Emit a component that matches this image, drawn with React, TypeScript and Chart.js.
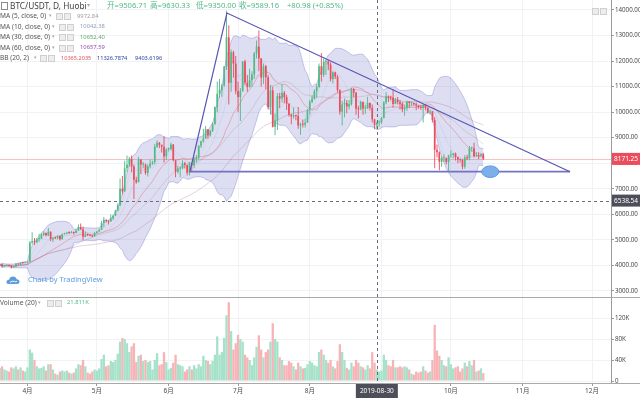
import React, { useEffect, useRef } from 'react';
import { Chart, registerables } from 'chart.js';
Chart.register(...registerables);

const FONT = '"Noto Sans", "Noto Sans CJK SC", sans-serif';

// Daily candles, 2019-03-20 (index 0) .. 2019-10-15 (index 209)
const opens = [
  3980,4045,3960,3995,4000,3990,3930,3950,4070,4040,4110,4100,
  4110,4150,4900,4960,4900,5040,5050,5200,5270,5180,5320,5030,5080,5070,5160,5030,5230,5240,5280,5270,5310,5270,5370,5500,5420,5120,5190,5180,5160,5140,
  5270,5330,5400,5660,5790,5740,5720,5850,5950,6150,6350,7000,6900,7800,7950,8180,7870,7350,7260,8150,7950,7950,7620,7880,7990,8050,8650,8800,8720,8650,8270,
  8550,8550,8730,8120,7670,7790,7800,8000,7930,7630,8000,7920,8170,8230,8690,8860,8970,9330,9090,9280,9530,10200,10720,10860,11040,11790,12930,11150,12340,11900,
  10830,10590,10820,11980,11150,10980,11250,11470,12300,12570,12100,11350,11800,11370,10200,10850,9430,9670,10630,10530,10760,10590,10330,9900,9830,9880,9850,9480,9530,9510,9590,
  10090,10400,10530,10820,10980,11800,11470,11970,11980,11860,11290,11560,11390,10860,10020,10300,10360,10220,10320,10910,10760,10130,10110,10400,10140,10140,10360,10170,9720,9506.71,9589,
  9600,9770,10380,10620,10580,10570,10320,10490,10400,10330,10110,10160,10420,10360,10360,10310,10260,10190,10160,10280,10170,9990,10030,9690,8530,8430,8060,8200,8200,8050,
  8300,8330,8390,8240,8150,8130,7870,8220,8200,8590,8590,8270,8300,8290,8350,
];
const highs = [
  4060,4070,4010,4010,4010,4000,3960,4080,4080,4120,4120,4120,
  4160,4950,5300,5070,5060,5240,5260,5340,5290,5470,5330,5100,5120,5180,5180,5240,5280,5320,5340,5350,5330,5420,5600,5640,5520,5330,5250,5220,5190,5320,
  5350,5440,5740,5900,5800,5760,5990,5990,6180,6420,7400,7500,8100,8300,8250,8300,7950,7470,8250,8160,8050,7990,7950,8150,8100,8750,8900,8830,8730,9070,8580,
  8620,8810,8750,8120,7900,7880,8120,8060,7950,8050,8020,8250,8320,8700,8880,9350,9460,9340,9310,9600,10220,11200,11300,11100,11800,13970,13400,12450,12400,12200,
  11200,10950,12000,12050,11450,11700,11600,12350,12800,13200,12120,11900,11850,11450,11050,11000,9950,10750,10750,11100,10830,10680,10350,9940,10180,9900,10200,9600,9710,9750,10120,
  10480,10670,10900,11090,11900,12320,12100,12030,12040,11950,11600,11580,11450,10900,10450,10530,10480,10480,10950,10950,10800,10250,10450,10420,10290,10600,10380,10300,9730,9630.33,9680,
  9820,10440,10780,10650,10640,10900,10550,10590,10480,10390,10290,10450,10440,10420,10380,10380,10270,10280,10300,10300,10180,10100,10050,9800,8730,8460,8270,8350,8230,8330,
  8500,8400,8420,8250,8180,8160,8310,8330,8680,8650,8800,8440,8430,8400,8410,
];
const lows = [
  3950,3930,3950,3970,3960,3880,3910,3940,4030,4030,4070,4090,
  4080,4140,4820,4800,4890,4930,5040,5150,5140,5150,4950,4920,5040,5030,4980,5020,5200,5230,5230,5260,5200,5260,5360,5390,5000,5110,5150,5140,5100,5130,
  5260,5320,5390,5500,5680,5600,5710,5780,5940,6120,6340,6780,6880,7650,7850,7650,6600,7200,7250,7580,7800,7550,7480,7800,7940,7960,8600,8600,8420,8030,8120,
  8460,8530,8080,7450,7600,7450,7770,7790,7520,7520,7700,7800,8020,8150,8600,8800,8960,8960,9050,9220,9520,10000,10550,10600,11000,11650,10300,10800,11350,10700,
  10000,9650,10800,11050,10800,10970,11000,11300,12100,11600,11000,11100,10900,10100,9900,9400,9100,9300,10150,10380,10350,10080,9830,9530,9750,9680,9350,9120,9400,9400,9580,
  9900,10350,10500,10560,10960,11200,11380,11450,11640,11200,11110,11300,10780,9900,9480,9800,9960,10100,10250,10580,9900,9750,10070,9900,9930,10130,10060,9600,9330,9350,9440,
  9540,9760,10310,10400,10460,10170,10310,10300,10100,10000,9860,10050,10160,10240,10260,10070,10130,10090,9600,10070,9940,9900,9600,7800,8230,7730,7860,8050,7960,7700,
  8230,8200,8110,8000,8030,7770,7780,8130,8120,8450,8230,8260,8170,8270,8130,
];
const closes = [
  4045,3960,3995,4000,3990,3930,3950,4070,4040,4110,4100,4110,
  4150,4900,4960,4900,5040,5050,5200,5270,5180,5320,5030,5080,5070,5160,5030,5230,5240,5280,5270,5310,5270,5370,5500,5420,5120,5190,5180,5160,5140,5270,
  5330,5400,5660,5790,5740,5720,5850,5950,6150,6350,7000,6900,7800,7950,8180,7870,7350,7260,8150,7950,7950,7620,7880,7990,8050,8650,8800,8720,8650,8270,8550,
  8550,8730,8120,7670,7790,7800,8000,7930,7630,8000,7920,8170,8230,8690,8860,8970,9330,9090,9280,9530,10200,10720,10860,11040,11790,12930,11150,12340,11900,10830,
  10590,10820,11980,11150,10980,11250,11470,12300,12570,12100,11350,11800,11370,10200,10850,9430,9670,10630,10530,10760,10590,10330,9900,9830,9880,9850,9480,9530,9510,9590,10090,
  10400,10530,10820,10980,11800,11470,11970,11980,11860,11290,11560,11390,10860,10020,10300,10360,10220,10320,10910,10760,10130,10110,10400,10140,10140,10360,10170,9720,9508.18,9589.16,9600,
  9770,10380,10620,10580,10570,10320,10490,10400,10330,10110,10160,10420,10360,10360,10310,10260,10190,10160,10280,10170,9990,10030,9690,8530,8430,8060,8200,8200,8050,8300,
  8330,8390,8240,8150,8130,7870,8220,8200,8590,8590,8270,8300,8290,8350,8171.25,
];
// volume in thousands
const volumes = [
  25,28,22,20,18,26,24,28,22,26,20,18,
  26,60,54,40,28,24,25,28,20,32,32,22,14,12,18,20,18,20,16,14,16,24,32,30,40,28,16,14,18,22,
  20,24,42,50,28,30,38,36,40,52,75,82,80,72,55,66,72,36,48,50,38,40,36,38,22,40,53,30,32,55,36,
  22,25,35,50,32,30,28,18,22,28,22,30,24,32,28,48,40,38,32,38,50,85,50,55,82,125,150,95,60,72,
  88,80,75,50,45,40,30,45,65,87,60,45,55,60,75,110,80,75,45,40,30,30,38,35,28,22,35,28,24,25,32,
  38,35,30,28,55,60,50,40,35,40,28,24,38,70,55,40,25,22,35,28,40,35,28,26,22,30,24,55,35,21.811,18,
  20,50,40,30,28,40,26,26,28,26,28,26,22,14,12,18,16,18,28,20,16,18,40,107,58,48,40,30,28,45,
  32,24,26,28,18,24,35,28,38,30,40,18,20,24,15,
];

const monthTickDays = [12, 42, 73, 103, 134, 165, 195, 226, 256];
const monthTickLabels = ['4月', '5月', '6月', '7月', '8月', '9月', '10月', '11月', '12月'];
const priceTicks = [3000, 4000, 5000, 6000, 7000, 8000, 9000, 10000, 11000, 12000, 13000, 14000];
const volumeTicks = [0, 40, 80, 120];
const volumeTickLabels = ['0', '40K', '80K', '120K'];

const triangleDays = [82.2, 98.2, 246.5];
const trianglePrices = [7670, 13880, 7670];
const markerDay = 212;
const markerPrice = 7670;
const crosshairDay = 163;
const crosshairPrice = 6538.54;
const crosshairDateLabel = '2019-08-30';
const lastPrice = 8171.25;

const UP = '#53b987';
const DOWN = '#eb4d5c';
const UP_VOL = '#a6e1c9';
const DOWN_VOL = '#f7b4b7';

function sma(values: number[], n: number) {
  return values.map((_, i) => {
    const w = values.slice(Math.max(0, i - n + 1), i + 1);
    return w.reduce((a, b) => a + b, 0) / w.length;
  });
}
function stdev(values: number[], n: number) {
  return values.map((_, i) => {
    const w = values.slice(Math.max(0, i - n + 1), i + 1);
    const m = w.reduce((a, b) => a + b, 0) / w.length;
    return Math.sqrt(w.reduce((a, b) => a + (b - m) * (b - m), 0) / w.length);
  });
}

const overlayPlugin = {
  id: 'overlayPlugin',
  beforeDatasetsDraw(chart: any) {
    const { ctx, chartArea, scales } = chart;
    const y = Math.round(scales.y.getPixelForValue(lastPrice)) + 0.5;
    ctx.save();
    ctx.strokeStyle = 'rgba(240,120,120,0.45)';
    ctx.lineWidth = 1;
    ctx.beginPath();
    ctx.moveTo(chartArea.left, y);
    ctx.lineTo(chartArea.right, y);
    ctx.stroke();
    ctx.restore();
  },
  afterDatasetsDraw(chart: any) {
    const { ctx, chartArea, scales } = chart;
    ctx.save();
    const ex = scales.x.getPixelForValue(markerDay);
    const ey = scales.y.getPixelForValue(markerPrice);
    ctx.beginPath();
    ctx.ellipse(ex, ey, 8.5, 5.8, 0, 0, Math.PI * 2);
    ctx.fillStyle = '#7db0ea';
    ctx.fill();
    ctx.strokeStyle = '#5a97e0';
    ctx.lineWidth = 1;
    ctx.stroke();
    ctx.setLineDash([3, 3]);
    ctx.strokeStyle = '#6a6d78';
    ctx.lineWidth = 1;
    const cx = Math.round(scales.x.getPixelForValue(crosshairDay)) + 0.5;
    ctx.beginPath();
    ctx.moveTo(cx, chartArea.top);
    ctx.lineTo(cx, chartArea.bottom);
    ctx.stroke();
    const cy = Math.round(scales.y.getPixelForValue(crosshairPrice)) + 0.5;
    ctx.beginPath();
    ctx.moveTo(chartArea.left, cy);
    ctx.lineTo(chartArea.right, cy);
    ctx.stroke();
    ctx.restore();
  },
  afterDraw(chart: any) {
    const { ctx, chartArea, scales, width } = chart;
    ctx.save();
    const sy = Math.round(scales.yv.top) + 0.5;
    ctx.strokeStyle = '#a9a9a9';
    ctx.lineWidth = 1;
    ctx.beginPath();
    ctx.moveTo(0, sy);
    ctx.lineTo(width, sy);
    ctx.stroke();
    const by = Math.round(chartArea.bottom) + 0.5;
    ctx.beginPath();
    ctx.moveTo(0, by);
    ctx.lineTo(width, by);
    ctx.stroke();

    ctx.font = `6.5px ${FONT}`;
    ctx.textBaseline = 'middle';
    const label = (x: number, y: number, w: number, h: number, bg: string, text: string) => {
      ctx.fillStyle = bg;
      ctx.fillRect(x, y, w, h);
      ctx.fillStyle = '#ffffff';
      ctx.textAlign = 'center';
      ctx.fillText(text, x + w / 2, y + h / 2 + 0.5);
    };
    const ly = scales.y.getPixelForValue(lastPrice);
    label(chartArea.right + 1, ly - 6, width - chartArea.right - 1, 12, DOWN, lastPrice.toFixed(2));
    const cy = scales.y.getPixelForValue(crosshairPrice);
    label(chartArea.right + 1, cy - 6, width - chartArea.right - 1, 12, '#4c4f5a', crosshairPrice.toFixed(2));
    const cx = scales.x.getPixelForValue(crosshairDay);
    label(cx - 21, chartArea.bottom + 1, 42, 14, '#4c4f5a', crosshairDateLabel);
    ctx.restore();
  },
};

export default function App() {
  const ref = useRef<HTMLCanvasElement>(null);
  useEffect(() => {
    document.body.style.margin = '0';
    Chart.defaults.font.family = FONT;
    const idx = closes.map((_, i) => i);
    const isUp = idx.map((i) => closes[i] >= opens[i]);
    const bbMid = sma(closes, 20);
    const bbSd = stdev(closes, 20);
    const bbUpper = idx.map((i) => ({ x: i, y: bbMid[i] + 2 * bbSd[i] }));
    const bbLower = idx.map((i) => ({ x: i, y: bbMid[i] - 2 * bbSd[i] }));
    const bbBasis = idx.map((i) => ({ x: i, y: bbMid[i] }));
    const ma = (n: number) => sma(closes, n).map((v, i) => ({ x: i, y: v }));
    const lineBase = { type: 'line' as const, pointRadius: 0, borderWidth: 1, tension: 0, fill: false, xAxisID: 'x', yAxisID: 'y' };

    const chart = new Chart(ref.current as HTMLCanvasElement, {
      type: 'bar',
      data: {
        datasets: [
          { ...lineBase, data: bbUpper, borderColor: 'rgba(110,110,200,0.35)', backgroundColor: 'rgba(120,124,200,0.25)', fill: '+1', order: 30 } as any,
          { ...lineBase, data: bbLower, borderColor: 'rgba(110,110,200,0.35)', order: 29 } as any,
          { ...lineBase, data: bbBasis, borderColor: 'rgba(225,90,100,0.4)', order: 28 } as any,
          { ...lineBase, data: ma(5), borderColor: 'rgba(140,140,140,0.1)', order: 27 } as any,
          { ...lineBase, data: ma(10), borderColor: 'rgba(110,140,190,0.12)', order: 26 } as any,
          { ...lineBase, data: ma(30), borderColor: 'rgba(150,110,120,0.22)', order: 25 } as any,
          { ...lineBase, data: ma(60), borderColor: 'rgba(180,110,150,0.32)', order: 24 } as any,
          {
            type: 'bar', data: idx.map((i) => ({ x: i, y: volumes[i] })), yAxisID: 'yv', xAxisID: 'x',
            backgroundColor: idx.map((i) => (isUp[i] ? UP_VOL : DOWN_VOL)), barThickness: 2.3, grouped: false, inflateAmount: 0, order: 20,
          } as any,
          {
            type: 'bar', data: idx.map((i) => ({ x: i, y: [lows[i], highs[i]] })), yAxisID: 'y', xAxisID: 'x',
            backgroundColor: idx.map((i) => (isUp[i] ? UP : DOWN)), barThickness: 0.9, grouped: false, inflateAmount: 0, order: 3,
          } as any,
          {
            type: 'bar', data: idx.map((i) => ({ x: i, y: [Math.min(opens[i], closes[i]), Math.max(opens[i], closes[i])] })), yAxisID: 'y', xAxisID: 'x',
            backgroundColor: idx.map((i) => (isUp[i] ? UP : DOWN)), barThickness: 1.7, grouped: false, inflateAmount: 0, minBarLength: 1, order: 2,
          } as any,
          { ...lineBase, data: triangleDays.map((d, i) => ({ x: d, y: trianglePrices[i] })), borderColor: '#5555b4', borderWidth: 1.2, order: 1 } as any,
          { ...lineBase, data: [0, 2].map((i) => ({ x: triangleDays[i], y: trianglePrices[i] })), borderColor: '#7373c4', borderWidth: 1.8, order: 1 } as any,
        ],
      },
      options: {
        responsive: false,
        animation: false,
        events: [],
        layout: { padding: 0 },
        plugins: { legend: { display: false }, tooltip: { enabled: false } },
        scales: {
          x: {
            type: 'linear', position: 'bottom', min: 0.11, max: 264.2, offset: false, bounds: 'data',
            afterBuildTicks: (s: any) => { s.ticks = monthTickDays.map((v) => ({ value: v })); },
            afterFit: (s: any) => { s.height = 15; s.paddingLeft = 0; s.paddingRight = 0; },
            ticks: {
              autoSkip: false, maxRotation: 0, minRotation: 0, padding: 1, color: '#4a4a4a', font: { size: 6.5 },
              callback: (v: any) => { const k = monthTickDays.indexOf(Number(v)); return k >= 0 ? monthTickLabels[k] : ''; },
            },
            grid: { color: '#f1f2f6', tickLength: 3, tickColor: '#999', offset: false },
            border: { display: false },
          },
          y: {
            type: 'linear', position: 'right', stack: 'pane', stackWeight: 297, min: 2765, max: 14390, bounds: 'data',
            afterBuildTicks: (s: any) => { s.ticks = priceTicks.map((v) => ({ value: v })); },
            afterFit: (s: any) => { s.width = 29; s.paddingTop = 0; s.paddingBottom = 0; },
            ticks: { padding: 1, color: '#4a4a4a', font: { size: 6.2 }, callback: (v: any) => Number(v).toFixed(2) },
            grid: { color: '#f1f2f6', tickLength: 3, tickColor: '#999' },
            border: { color: '#9a9a9a' },
          },
          yv: {
            type: 'linear', position: 'right', stack: 'pane', stackWeight: 86, min: -3.8, max: 160, bounds: 'data',
            afterBuildTicks: (s: any) => { s.ticks = volumeTicks.map((v) => ({ value: v })); },
            afterFit: (s: any) => { s.width = 29; s.paddingTop = 0; s.paddingBottom = 0; },
            ticks: {
              padding: 1, color: '#4a4a4a', font: { size: 6.2 },
              callback: (v: any) => { const k = volumeTicks.indexOf(Number(v)); return k >= 0 ? volumeTickLabels[k] : ''; },
            },
            grid: { color: '#f1f2f6', tickLength: 3, tickColor: '#999' },
            border: { color: '#9a9a9a' },
          },
        },
      } as any,
      plugins: [overlayPlugin],
    });
    return () => chart.destroy();
  }, []);

  const abs = (left: number, top: number, size: number, color: string, text: string, key?: string) => (
    <div key={key} style={{ position: 'absolute', left, top, fontSize: size, lineHeight: `${size + 2}px`, color, whiteSpace: 'nowrap' }}>{text}</div>
  );
  const box = (left: number, top: number, key?: string) => (
    <div key={key} style={{ position: 'absolute', left, top, width: 5, height: 5, border: '1px solid #cfcfcf', background: '#ededed' }} />
  );
  const maRows = [
    { label: 'MA (5, close, 0)', value: '9972.84', color: '#a0a0a0', top: 12, arrow: 49, bx: 56, vx: 77 },
    { label: 'MA (10, close, 0)', value: '10042.38', color: '#8c9cb8', top: 22.5, arrow: 52, bx: 59, vx: 80 },
    { label: 'MA (30, close, 0)', value: '10652.40', color: '#5faa62', top: 33, arrow: 52, bx: 59, vx: 80 },
    { label: 'MA (60, close, 0)', value: '10657.59', color: '#9a4daf', top: 43.5, arrow: 52, bx: 59, vx: 80 },
  ];

  return (
    <div style={{ position: 'fixed', left: 0, top: 0, width: 640, height: 398, overflow: 'hidden', background: '#ffffff', fontFamily: FONT }}>
      <canvas ref={ref} width={640} height={398} style={{ position: 'absolute', left: 0, top: 0, width: 640, height: 398 }} />
      <div style={{ position: 'absolute', left: 1, top: 2, width: 5, height: 6, border: '1px solid #8a8a8a' }} />
      {abs(10, 0.5, 8.3, '#3f3f3f', 'BTC/USDT, D, Huobi')}
      {abs(87, 1, 6, '#aaaaaa', '▾')}
      {abs(107, 1, 7.6, UP, '开=9506.71')}
      {abs(150, 1, 7.6, UP, '高=9630.33')}
      {abs(196, 1, 7.6, UP, '低=9350.00')}
      {abs(239, 1, 7.6, UP, '收=9589.16')}
      {abs(287, 1, 7.6, UP, '+80.98 (+0.85%)')}
      {maRows.map((r) => (
        <React.Fragment key={r.label}>
          {abs(0, r.top, 6.6, '#555555', r.label)}
          {abs(r.arrow, r.top, 5, '#aaaaaa', '▾')}
          {box(r.bx, r.top + 1)}
          {box(r.bx + 8, r.top + 1)}
          {abs(r.vx, r.top + 0.5, 5.8, r.color, r.value)}
        </React.Fragment>
      ))}
      {abs(0, 54, 6.6, '#555555', 'BB (20, 2)')}
      {abs(34, 54, 5, '#aaaaaa', '▾')}
      {box(40, 55)}
      {box(48, 55)}
      {abs(61, 54.5, 5.6, '#e0505a', '10365.2035')}
      {abs(97, 54.5, 5.6, '#2c3e9e', '11326.7874')}
      {abs(135, 54.5, 5.6, '#2c3e9e', '9403.6196')}
      {box(592, 8)}
      {box(600, 8)}
      {abs(0, 298.5, 6.6, '#555555', 'Volume (20)')}
      {abs(38, 298.5, 5, '#aaaaaa', '▾')}
      {box(47, 299.5)}
      {box(55, 299.5)}
      {abs(67, 299, 5.8, UP, '21.811K')}
      <svg style={{ position: 'absolute', left: 6, top: 275 }} width={14} height={10} viewBox="0 0 14 10">
        <path d="M3 9 Q0 9 0.5 6.5 Q1 4.5 3.2 4.8 Q3.8 1.5 7 1.5 Q10 1.5 10.6 4.3 Q13.5 4.3 13.5 6.8 Q13.5 9 11 9 Z" fill="#5d9ddc" />
        <path d="M4 7.5 Q6 5.2 8.5 6.5 Q10 7.3 11 6.2" stroke="#ffffff" strokeWidth={0.9} fill="none" />
      </svg>
      {abs(28, 275, 7.5, '#5d9ddc', 'Chart by TradingView')}
    </div>
  );
}
